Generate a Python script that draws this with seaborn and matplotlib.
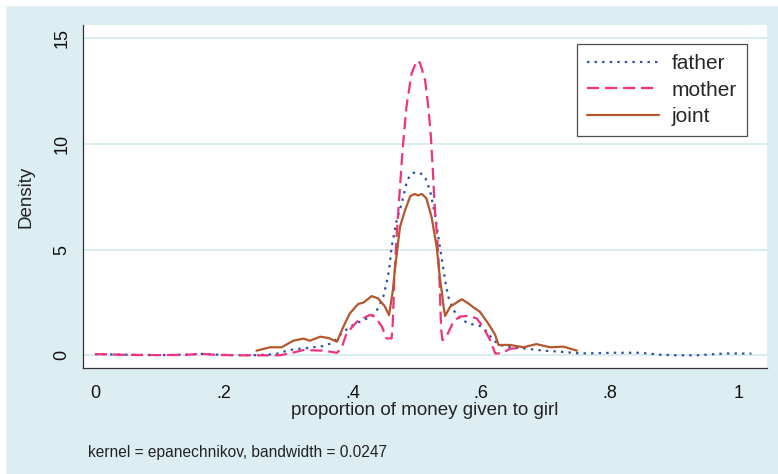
import pandas as pd
import matplotlib.pyplot as plt
import seaborn as sns

# Density curves (x = proportion, y = density)
father_x = [0.0, 0.05, 0.10, 0.14, 0.165, 0.19, 0.22, 0.25, 0.28, 0.293, 0.308, 0.334,
            0.355, 0.370, 0.381, 0.396, 0.417, 0.430, 0.440, 0.448, 0.453, 0.457, 0.461,
            0.469, 0.477, 0.484, 0.489, 0.495, 0.505, 0.513, 0.521, 0.528, 0.536, 0.544,
            0.549, 0.557, 0.567, 0.580, 0.598, 0.609, 0.619, 0.629, 0.645, 0.666, 0.697,
            0.723, 0.754, 0.78, 0.805, 0.847, 0.878, 0.905, 0.935, 0.96, 0.982, 1.02]
father_y = [0.05, 0.03, 0.01, 0.03, 0.07, 0.03, 0.01, 0.01, 0.05, 0.17, 0.28, 0.36,
            0.44, 0.60, 0.96, 1.35, 1.67, 1.83, 2.22, 2.77, 3.40, 4.03, 5.13,
            6.40, 7.22, 8.13, 8.50, 8.63, 8.63, 8.44, 7.74, 6.71, 5.13, 3.56,
            2.77, 2.14, 1.75, 1.51, 1.39, 1.12, 0.72, 0.49, 0.38, 0.33, 0.22,
            0.17, 0.09, 0.10, 0.12, 0.12, 0.03, 0.0, 0.0, 0.05, 0.09, 0.08]

mother_x = [0.0, 0.05, 0.10, 0.14, 0.165, 0.19, 0.22, 0.25, 0.287, 0.303, 0.324, 0.355,
            0.376, 0.383, 0.391, 0.407, 0.427, 0.435, 0.446, 0.453, 0.461, 0.463, 0.465,
            0.469, 0.474, 0.478, 0.484, 0.492, 0.500, 0.505, 0.513, 0.518, 0.522, 0.525,
            0.528, 0.532, 0.535, 0.5365, 0.538, 0.540, 0.546, 0.557, 0.567, 0.580, 0.593,
            0.603, 0.614, 0.622, 0.632, 0.645, 0.666]
mother_y = [0.06, 0.02, 0.01, 0.02, 0.07, 0.02, 0.0, 0.0, 0.0, 0.09, 0.25, 0.22,
            0.12, 0.33, 1.04, 1.59, 1.91, 1.83, 1.35, 0.80, 0.80, 1.67, 3.50,
            5.77, 7.97, 9.71, 11.75, 13.33, 13.93, 13.83, 13.02, 11.75, 10.34, 8.76,
            7.03, 5.45, 3.88, 2.46, 1.20, 0.72, 0.88, 1.59, 1.83, 1.87, 1.75,
            1.35, 0.72, 0.09, 0.09, 0.31, 0.36]

joint_x = [0.251, 0.272, 0.290, 0.308, 0.324, 0.334, 0.350, 0.363, 0.376, 0.386, 0.396,
           0.409, 0.417, 0.430, 0.440, 0.450, 0.457, 0.463, 0.466, 0.474, 0.482, 0.490,
           0.497, 0.502, 0.508, 0.515, 0.523, 0.531, 0.536, 0.539, 0.541, 0.544, 0.552,
           0.570, 0.580, 0.588, 0.598, 0.611, 0.622, 0.627, 0.645, 0.666, 0.686, 0.707,
           0.728, 0.749]
joint_y = [0.22, 0.38, 0.38, 0.69, 0.79, 0.69, 0.88, 0.82, 0.64, 1.35, 1.98,
           2.43, 2.49, 2.80, 2.69, 2.33, 1.90, 3.09, 4.03, 6.08, 6.87, 7.53,
           7.63, 7.56, 7.63, 7.42, 6.55, 5.13, 3.64, 3.00, 2.46, 1.86, 2.30,
           2.65, 2.46, 2.27, 2.06, 1.51, 0.96, 0.49, 0.49, 0.38, 0.53, 0.38,
           0.41, 0.22]

series = ["father", "mother", "joint"]
colors = {"father": "#2f52a8", "mother": "#f0327f", "joint": "#b5562d"}
styles = {"father": (0, (1.1, 2.3)), "mother": (0, (5.5, 2.6)), "joint": "-"}

df = pd.concat([
    pd.DataFrame({"x": father_x, "y": father_y, "who": "father"}),
    pd.DataFrame({"x": mother_x, "y": mother_y, "who": "mother"}),
    pd.DataFrame({"x": joint_x, "y": joint_y, "who": "joint"}),
])

sns.set_theme(style="white")
plt.rcParams['font.family'] = ['Liberation Sans', 'DejaVu Sans']

bg = "#ddeef2"
fig = plt.figure(figsize=(7.78, 4.74), dpi=100, facecolor=bg)
# white margin at top and left like the original export
fig.add_artist(plt.Rectangle((0, 0), 5 / 778, 1, transform=fig.transFigure,
                             color="white", zorder=0))
fig.add_artist(plt.Rectangle((0, 1 - 5 / 474), 1, 5 / 474, transform=fig.transFigure,
                             color="white", zorder=0))
ax = fig.add_axes([83 / 778, 1 - 368 / 474, 684 / 778, 343 / 474])
ax.set_facecolor("white")

for who in series:
    sns.lineplot(data=df[df["who"] == who], x="x", y="y", ax=ax, label=who,
                 color=colors[who], linestyle=styles[who], linewidth=1.6,
                 estimator=None, sort=False)

ax.set_xlim(-0.0186, 1.0443)
ax.set_ylim(-0.6, 15.62)
ax.set_xticks([0, 0.2, 0.4, 0.6, 0.8, 1.0])
ax.set_xticklabels(["0", ".2", ".4", ".6", ".8", "1"])
ax.set_yticks([0, 5, 10, 15])
ax.set_yticklabels(["0", "5", "10", "15"], rotation=90, va="center")
ax.yaxis.grid(True, color="#d6eaee", linewidth=1.3)
ax.set_axisbelow(True)
for s in ["top", "right"]:
    ax.spines[s].set_visible(False)
for s in ["left", "bottom"]:
    ax.spines[s].set_color("#333333")
    ax.spines[s].set_linewidth(0.9)
ax.tick_params(axis="both", direction="out", length=6, width=0.9, color="#333333",
               labelsize=13, labelcolor="#111111")
ax.tick_params(axis="x", pad=6)
ax.tick_params(axis="y", pad=3)

ax.set_xlabel("proportion of money given to girl", fontsize=13.5, color="#222222",
              labelpad=0)
ax.set_ylabel("Density", fontsize=13.5, color="#222222", labelpad=14)

leg = ax.legend(loc="upper right", bbox_to_anchor=(0.971, 0.945), fontsize=15,
                frameon=True, fancybox=False, edgecolor="#222222",
                handlelength=3.45, handletextpad=0.6, borderpad=0.5,
                labelspacing=0.35, borderaxespad=0)
leg.get_frame().set_linewidth(0.9)

fig.text(88 / 778, 1 - 453 / 474, "kernel = epanechnikov, bandwidth = 0.0247",
         fontsize=11.2, color="#222222", va="center", ha="left")

fig.savefig("out.png", dpi=100, facecolor=bg)
